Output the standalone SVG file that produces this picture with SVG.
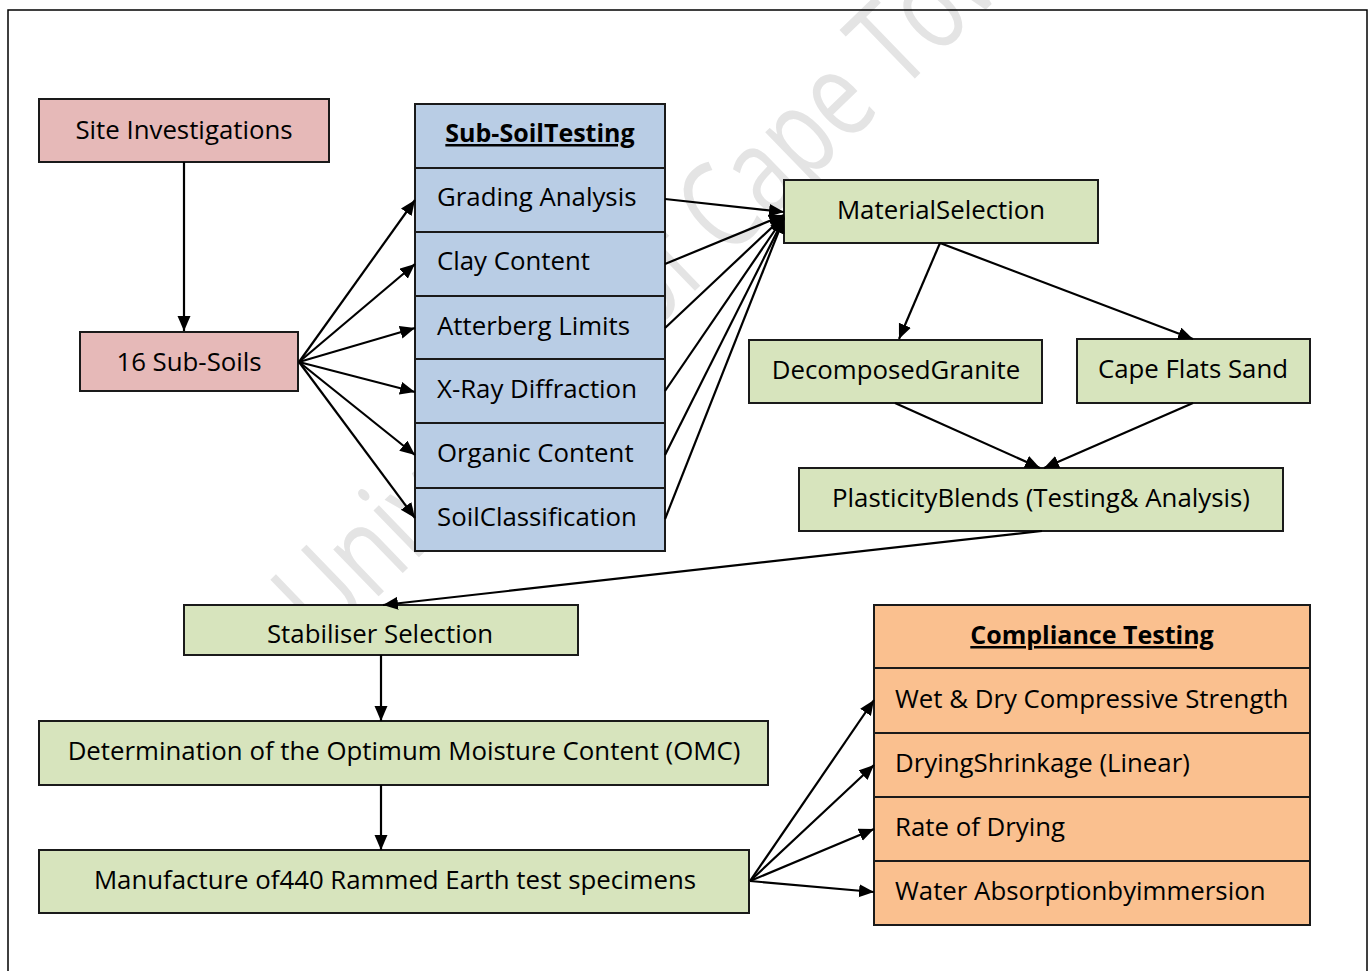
<svg xmlns="http://www.w3.org/2000/svg" width="1370" height="971" viewBox="0 0 1370 971">
<defs>
<style>
.box{stroke:#1a1a1a;stroke-width:2}
.pink{fill:#e6b9b8}
.blue{fill:#b9cde5}
.green{fill:#d7e4bd}
.orange{fill:#fac08f}
.t{font-family:"Open Sans","Liberation Sans",sans-serif;font-size:25.8px;fill:#000}
.c{text-anchor:middle}
.h{font-weight:bold;text-decoration:underline;font-size:25px}
.con line{stroke:#000;stroke-width:2.2;marker-end:url(#ah)}
.wm{font-family:"Open Sans","Liberation Sans",sans-serif;font-size:122px;fill:#e4e4e4}
</style>
<marker id="ah" markerUnits="userSpaceOnUse" markerWidth="16" markerHeight="14" refX="15" refY="6.5" orient="auto">
<path d="M0,0 L15,6.5 L0,13 z" fill="#000"/>
</marker>
</defs>
<rect x="0" y="0" width="1370" height="971" fill="#fff"/>
<text class="wm" transform="translate(325 648) rotate(-44) scale(0.75 1)" x="0" y="0">University of Cape Town</text>
<rect x="8" y="10" width="1359" height="980" fill="none" stroke="#000" stroke-width="1.5"/>

<g id="site-investigations"><rect class="box pink" x="39" y="99" width="290" height="63"/><text class="t c" x="184" y="139">Site Investigations</text></g>
<g id="sub-soils"><rect class="box pink" x="80" y="332" width="218" height="59"/><text class="t c" x="189" y="371">16 Sub-Soils</text></g>

<g id="sub-soil-testing">
<rect class="box blue" x="415" y="104" width="250" height="64"/><text class="t c h" x="540" y="142">Sub-SoilTesting</text>
<rect class="box blue" x="415" y="168" width="250" height="64"/><text class="t" x="437" y="206">Grading Analysis</text>
<rect class="box blue" x="415" y="232" width="250" height="64"/><text class="t" x="437" y="270">Clay Content</text>
<rect class="box blue" x="415" y="296" width="250" height="63"/><text class="t" x="437" y="335">Atterberg Limits</text>
<rect class="box blue" x="415" y="359" width="250" height="64"/><text class="t" x="437" y="398">X-Ray Diffraction</text>
<rect class="box blue" x="415" y="423" width="250" height="65"/><text class="t" x="437" y="462">Organic Content</text>
<rect class="box blue" x="415" y="488" width="250" height="63"/><text class="t" x="437" y="526">SoilClassification</text>
</g>

<g id="material-selection"><rect class="box green" x="784" y="180" width="314" height="63"/><text class="t c" x="941" y="219">MaterialSelection</text></g>
<g id="decomposed-granite"><rect class="box green" x="749" y="340" width="293" height="63"/><text class="t c" x="896" y="379">DecomposedGranite</text></g>
<g id="cape-flats-sand"><rect class="box green" x="1077" y="339" width="233" height="64"/><text class="t c" x="1193" y="378">Cape Flats Sand</text></g>
<g id="plasticity-blends"><rect class="box green" x="799" y="468" width="484" height="63"/><text class="t c" x="1041" y="507">PlasticityBlends (Testing&amp; Analysis)</text></g>
<g id="stabiliser-selection"><rect class="box green" x="184" y="605" width="394" height="50"/><text class="t c" x="380" y="643">Stabiliser Selection</text></g>
<g id="omc"><rect class="box green" x="39" y="721" width="729" height="64"/><text class="t c" x="404" y="760">Determination of the Optimum Moisture Content (OMC)</text></g>
<g id="manufacture"><rect class="box green" x="39" y="850" width="710" height="63"/><text class="t c" x="395" y="889">Manufacture of440 Rammed Earth test specimens</text></g>

<g id="compliance-testing">
<rect class="box orange" x="874" y="605" width="436" height="63"/><text class="t c h" x="1092" y="644">Compliance Testing</text>
<rect class="box orange" x="874" y="668" width="436" height="65"/><text class="t" x="895" y="708">Wet &amp; Dry Compressive Strength</text>
<rect class="box orange" x="874" y="733" width="436" height="64"/><text class="t" x="895" y="772">DryingShrinkage (Linear)</text>
<rect class="box orange" x="874" y="797" width="436" height="64"/><text class="t" x="895" y="836">Rate of Drying</text>
<rect class="box orange" x="874" y="861" width="436" height="64"/><text class="t" x="895" y="900">Water Absorptionbyimmersion</text>
</g>

<g id="connectors" class="con">
<line x1="184" y1="162" x2="184" y2="331"/>
<line x1="299" y1="362" x2="415" y2="200"/>
<line x1="299" y1="362" x2="415" y2="264"/>
<line x1="299" y1="362" x2="415" y2="328"/>
<line x1="299" y1="362" x2="415" y2="392"/>
<line x1="299" y1="362" x2="415" y2="455"/>
<line x1="299" y1="362" x2="415" y2="518"/>
<line x1="665" y1="199" x2="784" y2="212"/>
<line x1="665" y1="264" x2="784" y2="215"/>
<line x1="665" y1="328" x2="784" y2="216"/>
<line x1="665" y1="391" x2="784" y2="217"/>
<line x1="665" y1="455" x2="784" y2="218"/>
<line x1="665" y1="519" x2="784" y2="218"/>
<line x1="940" y1="243" x2="899" y2="339"/>
<line x1="940" y1="243" x2="1193" y2="339"/>
<line x1="895" y1="403" x2="1040" y2="468"/>
<line x1="1193" y1="403" x2="1044" y2="468"/>
<line x1="1042" y1="531" x2="383" y2="605"/>
<line x1="381" y1="655" x2="381" y2="721"/>
<line x1="381" y1="785" x2="381" y2="850"/>
<line x1="750" y1="881" x2="874" y2="700"/>
<line x1="750" y1="881" x2="874" y2="765"/>
<line x1="750" y1="881" x2="874" y2="829"/>
<line x1="750" y1="881" x2="874" y2="892"/>
</g>
</svg>
